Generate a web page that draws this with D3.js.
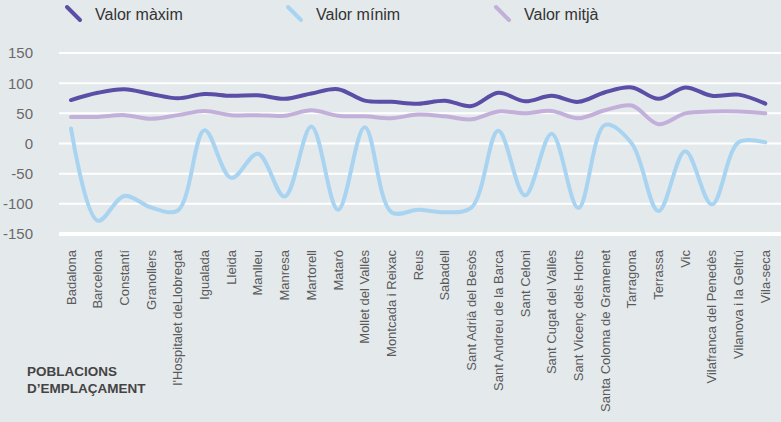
<!DOCTYPE html>
<html><head><meta charset="utf-8">
<script src="https://cdn.jsdelivr.net/npm/d3@7"></script>
<style>
html,body{margin:0;padding:0;background:#e4e9ec;}
svg{display:block;font-family:"Liberation Sans",Arial,sans-serif;}
</style></head>
<body>
<svg id="c" width="781" height="422"></svg>
<script>
const categories = ["Badalona","Barcelona","Constantí","Granollers","l'Hospitalet deLlobregat","Igualada","Lleida","Manlleu","Manresa","Martorell","Mataró","Mollet del Vallès","Montcada i Reixac","Reus","Sabadell","Sant Adrià del Besòs","Sant Andreu de la Barca","Sant Celoni","Sant Cugat del Vallès","Sant Vicenç dels Horts","Santa Coloma de Gramenet","Tarragona","Terrassa","Vic","Vilafranca del Penedès","Vilanova i la Geltrú","Vila-seca"];
const maxValues = [72,84,90,82,75,82,79,80,74,83,90,71,69,66,71,62,84,70,79,69,85,93,74,93,79,81,66];
const minValues = [25,-128,-87,-106,-111,22,-57,-17,-88,28,-110,27,-114,-110,-114,-106,21,-86,16,-107,31,0,-112,-13,-101,2,2];
const meanValues = [44,44,47,41,47,54,47,47,46,55,46,45,42,48,45,40,53,50,54,42,55,63,32,50,53,53,50];
const yTicks = [150,100,50,0,-50,-100,-150];
const seriesNames = ["Valor màxim","Valor mínim","Valor mitjà"];
const axisTitle = ["POBLACIONS","D’EMPLAÇAMENT"];

const colors = ["#5a4ea6","#a9d4f1","#c3b0da"];
const svg = d3.select("#c");

const x = d3.scalePoint().domain(categories).range([71, 765.3]);
const y = d3.scaleLinear().domain([-150,150]).range([234, 53]);

// gridlines
svg.append("g").selectAll("line").data(yTicks).join("line")
  .attr("x1",59).attr("x2",781)
  .attr("y1",d=>y(d)).attr("y2",d=>y(d))
  .attr("stroke","#fff")
  .attr("stroke-width",d=>d===-150?4:2);

// y tick labels
svg.append("g").selectAll("text").data(yTicks).join("text")
  .attr("x",33).attr("y",d=>y(d)).attr("dy","0.36em")
  .attr("text-anchor","end").attr("font-size",15).attr("fill","#6a6a6a")
  .text(d=>d);

// x labels
svg.append("g").selectAll("text").data(categories).join("text")
  .attr("transform",d=>`translate(${x(d)},250) rotate(-90)`)
  .attr("dy","0.35em").attr("text-anchor","end")
  .attr("font-size",13).attr("fill","#5a5a5a")
  .text(d=>d);

// axis title
svg.append("g").selectAll("text").data(axisTitle).join("text")
  .attr("x",27).attr("y",(d,i)=>376+i*16.5)
  .attr("font-size",13.5).attr("font-weight","bold").attr("fill","#444")
  .text(d=>d);

// lines
const line = d3.line().x((d,i)=>x(categories[i])).y(d=>y(d)).curve(d3.curveCatmullRom.alpha(0.5));
const series = [maxValues,minValues,meanValues];
[2,1,0].forEach(k=>{
  svg.append("path").attr("d",line(series[k]))
    .attr("fill","none").attr("stroke",colors[k]).attr("stroke-width",4)
    .attr("stroke-linecap","round").attr("stroke-linejoin","round");
});

// legend
const legX = [66,287,495];
const lg = svg.append("g").selectAll("g").data(seriesNames).join("g")
  .attr("transform",(d,i)=>`translate(${legX[i]},0)`);
lg.append("line").attr("x1",1).attr("y1",7).attr("x2",14).attr("y2",20)
  .attr("stroke",(d,i)=>colors[i]).attr("stroke-width",4).attr("stroke-linecap","round");
lg.append("text").attr("x",29).attr("y",20).attr("font-size",16).attr("fill","#333").text(d=>d);
</script>
</body></html>
